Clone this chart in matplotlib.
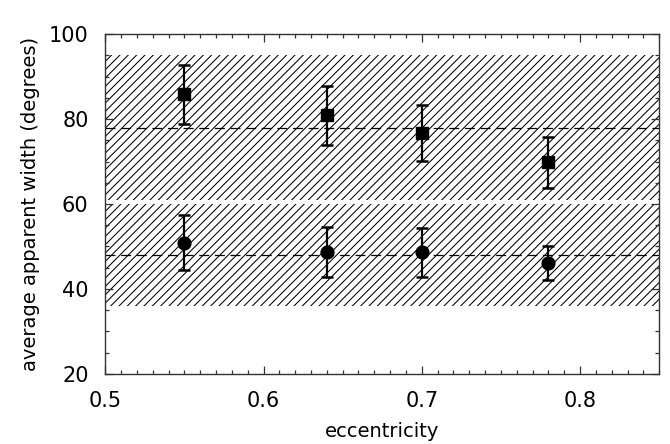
import matplotlib
matplotlib.use("Agg")
import matplotlib.pyplot as plt
from matplotlib.ticker import MultipleLocator

plt.rcParams['font.family'] = ['DejaVu Sans']
plt.rcParams['hatch.linewidth'] = 0.75

# Data
ecc = [0.55, 0.64, 0.70, 0.78]
sq_val = [85.8, 80.9, 76.8, 69.8]
sq_err = [6.9, 7.0, 6.6, 6.0]
ci_val = [50.9, 48.7, 48.6, 46.1]
ci_err = [6.5, 5.8, 5.7, 3.9]

upper_band = (61, 95)
lower_band = (36, 60)
upper_mean = 78
lower_mean = 48

x_range = (0.5, 0.85)
y_range = (20, 100)

fig = plt.figure(figsize=(6.7, 4.44), dpi=100)
ax = fig.add_axes([0.157, 0.158, 0.827, 0.765])

for lo, hi in (upper_band, lower_band):
    ax.fill_between(x_range, lo, hi, facecolor='none', edgecolor='black',
                    hatch='////', linewidth=0)

for m in (upper_mean, lower_mean):
    ax.axhline(m, color='black', lw=0.9, dashes=(8, 4.5))

ax.errorbar(ecc, sq_val, yerr=sq_err, fmt='s', color='black', ms=8.6,
            elinewidth=1.6, capsize=4.6, capthick=1.8, zorder=5)
ax.errorbar(ecc, ci_val, yerr=ci_err, fmt='o', color='black', ms=9.2,
            elinewidth=1.6, capsize=4.6, capthick=1.8, zorder=5)

ax.set_xlim(*x_range)
ax.set_ylim(*y_range)
ax.xaxis.set_major_locator(MultipleLocator(0.1))
ax.xaxis.set_minor_locator(MultipleLocator(0.01))
ax.yaxis.set_major_locator(MultipleLocator(20))
ax.yaxis.set_minor_locator(MultipleLocator(5))
ax.tick_params(which='both', direction='in', top=True, right=True,
               labelsize=15, color='#333333')
ax.tick_params(which='major', length=5.5, width=0.9, pad=12)
ax.tick_params(which='minor', length=3, width=0.9)
for s in ax.spines.values():
    s.set_linewidth(1.0)
    s.set_color('#333333')

ax.set_xlabel('eccentricity', fontsize=14, labelpad=8)
ax.set_ylabel('average apparent width (degrees)', fontsize=14, labelpad=6)

fig.savefig('out.png', dpi=100)
